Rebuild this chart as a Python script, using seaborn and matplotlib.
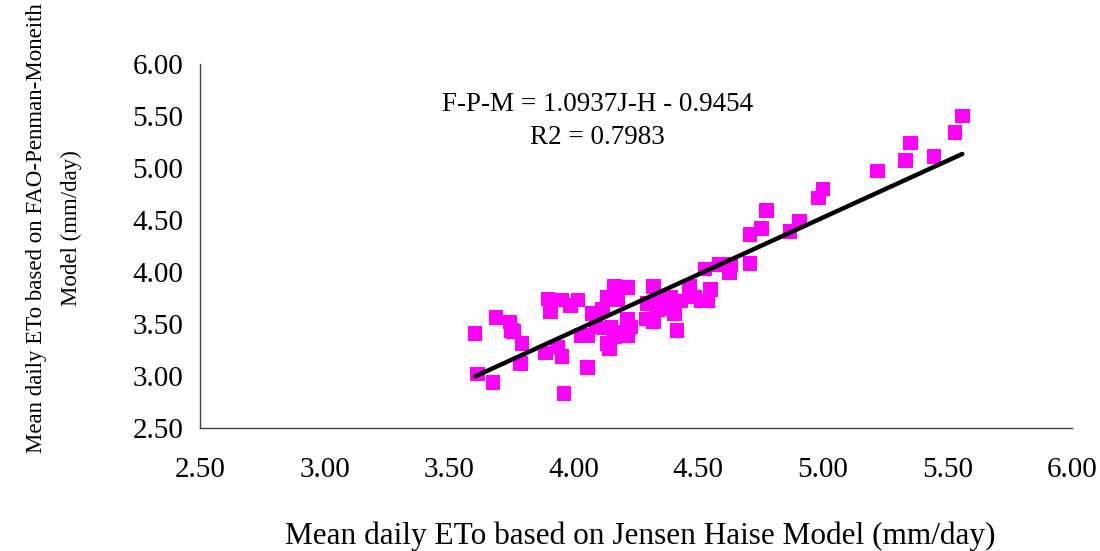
import matplotlib
matplotlib.use("Agg")
import matplotlib.pyplot as plt
import seaborn as sns
import pandas as pd
import numpy as np

# Valores
jensen_haise = [3.604, 3.613, 3.677, 3.688, 3.744, 3.750, 3.758, 3.793, 3.787, 3.886,
                3.897, 3.908, 3.935, 3.953, 3.961, 3.951, 3.988, 4.018, 4.029, 4.055,
                4.076, 4.055, 4.116, 4.122, 4.136, 4.163, 4.176, 4.149, 4.136, 4.143,
                4.216, 4.216, 4.216, 4.230, 4.163, 4.321, 4.290, 4.321, 4.297, 4.337,
                4.350, 4.377, 4.404, 4.391, 4.431, 4.464, 4.484, 4.511, 4.538, 4.549,
                4.527, 4.585, 4.415, 5.560, 5.530, 5.352, 5.332, 5.446, 5.219, 5.001,
                4.983, 4.774, 4.753, 4.708, 4.869, 4.907, 4.708, 4.625, 4.629, 4.549,
                4.464, 4.090, 4.180]
fao_pm = [3.41, 3.02, 2.94, 3.56, 3.52, 3.44, 3.43, 3.31, 3.12, 3.22,
          3.74, 3.62, 3.28, 3.19, 2.83, 3.73, 3.68, 3.73, 3.39, 3.08,
          3.60, 3.39, 3.64, 3.46, 3.76, 3.86, 3.73, 3.47, 3.31, 3.26,
          3.85, 3.55, 3.39, 3.47, 3.38, 3.86, 3.55, 3.52, 3.70, 3.64,
          3.75, 3.65, 3.60, 3.76, 3.72, 3.84, 3.76, 3.72, 3.72, 3.83,
          4.03, 4.07, 3.44, 5.50, 5.34, 5.24, 5.07, 5.11, 4.97, 4.80,
          4.71, 4.59, 4.42, 4.36, 4.39, 4.49, 4.08, 3.99, 4.07, 3.83,
          3.86, 3.47, 3.42]

slope = 1.0937
intercept = -0.9454
r2 = 0.7983

ticks = [2.50, 3.00, 3.50, 4.00, 4.50, 5.00, 5.50, 6.00]

df = pd.DataFrame({"JH": jensen_haise, "FPM": fao_pm})
x_line = np.array([min(jensen_haise), max(jensen_haise)])
line_df = pd.DataFrame({"JH": x_line, "FPM": slope * x_line + intercept})

sns.set_style("white")
plt.rcParams['font.family'] = ['Liberation Serif', 'DejaVu Serif']
plt.rcParams['text.color'] = 'black'
plt.rcParams['axes.labelcolor'] = 'black'
plt.rcParams['xtick.color'] = 'black'
plt.rcParams['ytick.color'] = 'black'

fig = plt.figure(figsize=(11, 5.51), dpi=100)
ax = fig.add_axes([0.1818, 0.2232, 0.7927, 0.6606])

sns.scatterplot(data=df, x="JH", y="FPM", marker="s", s=110, color="#FF00FF",
                edgecolor="none", ax=ax, zorder=2)
sns.lineplot(data=line_df, x="JH", y="FPM", color="black", linewidth=3.2, ax=ax, zorder=3)

ax.set_xlim(2.5, 6.0)
ax.set_ylim(2.5, 6.0)
ax.set_xticks(ticks)
ax.set_yticks(ticks)
ax.set_xticklabels([f"{t:.2f}" for t in ticks])
ax.set_yticklabels([f"{t:.2f}" for t in ticks])
ax.tick_params(axis="both", direction="out", length=7, width=1, color="#404040",
               labelsize=21, labelcolor="black")
ax.tick_params(axis="x", pad=14)
ax.tick_params(axis="y", pad=5)

for side in ["top", "right"]:
    ax.spines[side].set_visible(False)
for side in ["left", "bottom"]:
    ax.spines[side].set_color("#404040")
    ax.spines[side].set_linewidth(1)

ax.set_xlabel("Mean daily ETo based on Jensen Haise Model (mm/day)", fontsize=22.5)
ax.xaxis.set_label_coords(0.505, -0.258)
ax.set_ylabel("Mean daily ETo based on FAO-Penman-Moneith\nModel (mm/day)", fontsize=16.5,
              linespacing=1.85)
ax.yaxis.set_label_coords(-0.135, 0.55)

ax.text(0.456, 0.843, f"F-P-M = {slope}J-H - {abs(intercept)}\nR2 = {r2}",
        transform=ax.transAxes, ha="center", va="center", fontsize=19.5,
        multialignment="center", linespacing=1.4)

fig.savefig("out.png", dpi=100)
